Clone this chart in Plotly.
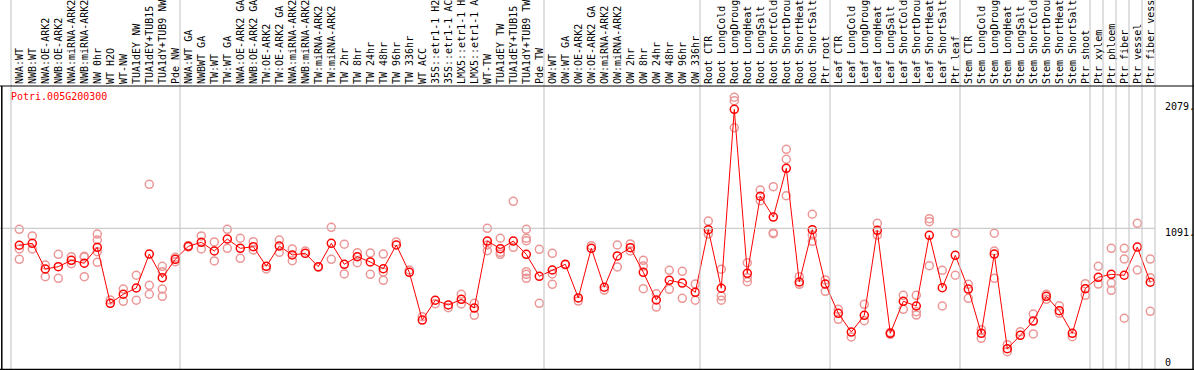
import plotly.graph_objects as go

gene = "Potri.005G200300"

categories = [
    "NWA:WT", "NWB:WT", "NWA:OE-ARK2", "NWB:OE-ARK2", "NWA:miRNA-ARK2", "NWB:miRNA-ARK2",
    "NW 0hr", "WT H2O", "WT-NW", "TUA1dEY NW", "TUA1dEY+TUB15 NW", "TUA1dY+TUB9 NW", "Pde NW",
    "NWA:WT GA", "NWBWT GA", "TW:WT", "TW:WT GA", "NWA:OE-ARK2 GA", "NWB:OE-ARK2 GA",
    "TW:OE-ARK2", "TW:OE-ARK2 GA", "NWA:miRNA-ARK2", "NWB:miRNA-ARK2", "TW:miRNA-ARK2",
    "TW:miRNA-ARK2", "TW 2hr", "TW 8hr", "TW 24hr", "TW 48hr", "TW 96hr", "TW 336hr",
    "WT ACC", "35S::etr1-1 H2O", "35S::etr1-1 ACC", "LMX5::etr1-1 H2O", "LMX5::etr1-1 ACC",
    "WT-TW", "TUA1dEY TW", "TUA1dEY+TUB15 TW", "TUA1dY+TUB9 TW", "Pde TW",
    "OW:WT", "OW:WT GA", "OW:OE-ARK2", "OW:OE-ARK2 GA", "OW:miRNA-ARK2", "OW:miRNA-ARK2",
    "OW 2hr", "OW 8hr", "OW 24hr", "OW 48hr", "OW 96hr", "OW 336hr",
    "Root CTR", "Root LongCold", "Root LongDrought", "Root LongHeat", "Root LongSalt",
    "Root ShortCold", "Root ShortDrought", "Root ShortHeat", "Root ShortSalt", "Ptr root",
    "Leaf CTR", "Leaf LongCold", "Leaf LongDrought", "Leaf LongHeat", "Leaf LongSalt",
    "Leaf ShortCold", "Leaf ShortDrought", "Leaf ShortHeat", "Leaf ShortSalt", "Ptr leaf",
    "Stem CTR", "Stem LongCold", "Stem LongDrought", "Stem LongHeat", "Stem LongSalt",
    "Stem ShortCold", "Stem ShortDrought", "Stem ShortHeat", "Stem ShortSalt", "Ptr shoot",
    "Ptr xylem", "Ptr phloem", "Ptr fiber", "Ptr vessel", "Ptr fiber vessel",
]

means = [
    958, 973, 772, 790, 840, 817, 942, 503, 574, 623, 889, 704, 848,
    950, 981, 913, 1007, 934, 947, 793, 952, 882, 895, 790, 973, 809, 868, 827, 774, 960, 746,
    372, 527, 490, 534, 466, 991, 931, 991, 887, 715,
    764, 809, 545, 934, 629, 874, 939, 746, 529, 683, 662, 589,
    1080, 621, 2023, 738, 1342, 1179, 1561, 670, 1080, 654,
    425, 278, 409, 1075, 268, 519, 482, 1036, 625, 879,
    615, 268, 889, 147, 252, 364, 558, 445, 268, 618,
    707, 730, 723, 944, 668,
]

replicates = [
    [1083, 929, 848], [1031, 929], [803, 712], [887, 699], [868, 813], [871, 712, 866],
    [1046, 999, 908, 824], [529], [615, 519], [723, 527], [1436, 644, 574],
    [793, 751, 615, 558], [864, 829],
    [955, 945], [1031, 929], [984, 835], [1083, 934], [1013, 856], [986, 921], [772],
    [999, 903], [929, 837], [913], [785], [1099, 848], [966, 733], [900, 821], [897, 730],
    [889, 748, 683], [984], [764],
    [398], [500], [469], [574, 498], [503, 409], [1091, 915, 960], [1013, 887, 903],
    [1302, 942], [1083, 1013, 994, 751, 699, 730], [926, 503],
    [895, 652, 733], [805], [521], [955], [607], [960, 788], [968, 913], [840, 795, 618],
    [578, 474], [762, 613], [754, 542], [654, 527],
    [1148, 1046], [770, 560, 527], [2118, 2091, 1879], [821, 704, 672], [1391, 1307],
    [1417, 1056, 1049], [1710, 1632, 1346], [712, 652], [1201, 1038, 989], [686, 597],
    [456, 378], [239], [495, 367], [1130, 1038], [260, 275], [566, 456], [566, 437, 411],
    [1166, 1143, 798], [762, 482], [1052, 723],
    [652, 542], [296, 229], [1052, 913, 699], [179, 124], [281], [419, 263], [574, 534],
    [484, 425], [241], [657, 566],
    [793, 654], [934, 662, 605], [934, 850, 386], [1130, 764], [850, 704, 440],
]

axis_marks = [2079, 1091, 0]
group_starts = [0, 13, 41, 53, 63, 73, 83, 84, 85, 86, 87, 88]
label_chars = 14  # labels are shown truncated to 14 characters

idx = list(range(len(categories)))
tick_text = [c[:label_chars].rstrip() for c in categories]
rx, ry = [], []
for i, reps in enumerate(replicates):
    for v in reps:
        rx.append(i)
        ry.append(v)

MONO = "DejaVu Sans Mono"

fig = go.Figure()
fig.add_trace(go.Scatter(
    x=rx, y=ry, mode="markers",
    marker=dict(symbol="circle-open", size=8, color="rgb(236,150,150)",
                line=dict(width=1.5, color="rgb(236,150,150)")),
    hoverinfo="skip", showlegend=False,
))
fig.add_trace(go.Scatter(
    x=idx, y=means, mode="lines+markers",
    line=dict(color="#ff0000", width=1),
    marker=dict(symbol="circle-open", size=8, color="#ff0000",
                line=dict(width=1.5, color="#ff0000")),
    showlegend=False,
))

W, H = 1194, 370
T = 86
step = 13.0
first_px = 19.3
xa = -first_px / step
xb = xa + W / step
py0 = 367.5
scale = 0.1276
plot_h = H - T
ya = -(H - py0) / scale
yb = (py0 - T) / scale

shapes = []
for k in group_starts:
    xs = k - 8.3 / step
    shapes.append(dict(type="line", xref="x", yref="paper", x0=xs, x1=xs, y0=0,
                       y1=1 + T / plot_h, line=dict(color="#c0c0c0", width=1)))
x_end = 88 - 8.3 / step
shapes.append(dict(type="line", xref="paper", yref="y", x0=0, x1=(first_px + step * x_end) / W,
                   y0=1091, y1=1091, line=dict(color="#c0c0c0", width=1)))
# borders
shapes.append(dict(type="line", xref="paper", yref="paper", x0=0, x1=1, y0=1, y1=1,
                   line=dict(color="black", width=1)))
shapes.append(dict(type="line", xref="paper", yref="paper", x0=0, x1=1, y0=0.002, y1=0.002,
                   line=dict(color="black", width=1.5)))
shapes.append(dict(type="line", xref="paper", yref="paper", x0=0.0015, x1=0.0015, y0=0, y1=1,
                   line=dict(color="black", width=1.5)))
shapes.append(dict(type="line", xref="paper", yref="paper", x0=0.9992, x1=0.9992, y0=0,
                   y1=1 + T / plot_h, line=dict(color="black", width=1.5)))

annotations = [dict(text=gene, xref="paper", yref="paper", x=9 / W, y=1 - (96.7 - T) / plot_h,
                    xanchor="left", yanchor="middle", showarrow=False,
                    font=dict(family=MONO, size=10, color="#ff0000"))]
shifts = {2079: -4.4, 1091: -4.4, 0: 5.5}
for v in axis_marks:
    label = "0" if v == 0 else f"{v}."
    annotations.append(dict(text=label, xref="paper", yref="y", x=1163 / W, y=v,
                            xanchor="left", yanchor="middle", yshift=shifts[v], showarrow=False,
                            font=dict(family=MONO, size=10, color="black")))

fig.update_layout(
    width=W, height=H,
    margin=dict(l=0, r=0, t=T, b=0, pad=0),
    paper_bgcolor="white", plot_bgcolor="white",
    xaxis=dict(range=[xa, xb], side="top", tickmode="array", tickvals=idx,
               ticktext=tick_text, tickangle=-90, showgrid=False, zeroline=False,
               showline=False, ticks="", ticklabelstandoff=1, automargin=False,
               tickfont=dict(family=MONO, size=10, color="black")),
    yaxis=dict(range=[ya, yb], visible=False, showgrid=False, zeroline=False),
    shapes=shapes, annotations=annotations,
    font=dict(family=MONO, size=10),
)

fig.write_html(
    "out.html",
    config={"displayModeBar": False},
    post_script="document.body.style.margin='0';document.body.style.overflow='hidden';",
)
